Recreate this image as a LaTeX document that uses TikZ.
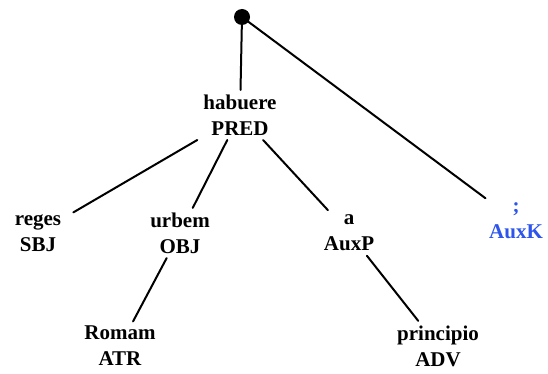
\documentclass[tikz,border=0pt]{standalone}
\usepackage{fontspec}
\setmainfont{Liberation Serif}
\definecolor{auxblue}{RGB}{45,85,235}
\begin{document}
\begin{tikzpicture}[x=1pt,y=-1pt,line cap=round,line join=round]
\tikzset{word/.style={font=\bfseries\fontsize{21}{26}\selectfont,align=center,inner xsep=12pt,inner ysep=4.5pt},
  edge/.style={line width=2pt}}
\useasboundingbox (0,0) rectangle (548,374);
\node [circle,fill,minimum size=16pt,inner sep=0pt] (root) at (242,17) {};
\node [word] (habuere) at (240,115) {habuere\\PRED};
\node [word] (reges) at (38,233) {reges\\SBJ};
\node [word] (urbem) at (180,233) {urbem\\OBJ};
\node [word] (a) at (349,233) {a\\AuxP};
\node [word,text=auxblue] (semi) at (516,221) {;\\AuxK};
\node [word] (Romam) at (120,346) {Romam\\ATR};
\node [word] (principio) at (438,346) {principio\\ADV};
\draw [edge] (root) -- (habuere);
\draw [edge] (root) -- (semi);
\draw [edge] (habuere) -- (reges);
\draw [edge] (habuere) -- (urbem);
\draw [edge] (habuere) -- (a);
\draw [edge] (urbem) -- (Romam);
\draw [edge] (a) -- (principio);
\end{tikzpicture}
\end{document}
